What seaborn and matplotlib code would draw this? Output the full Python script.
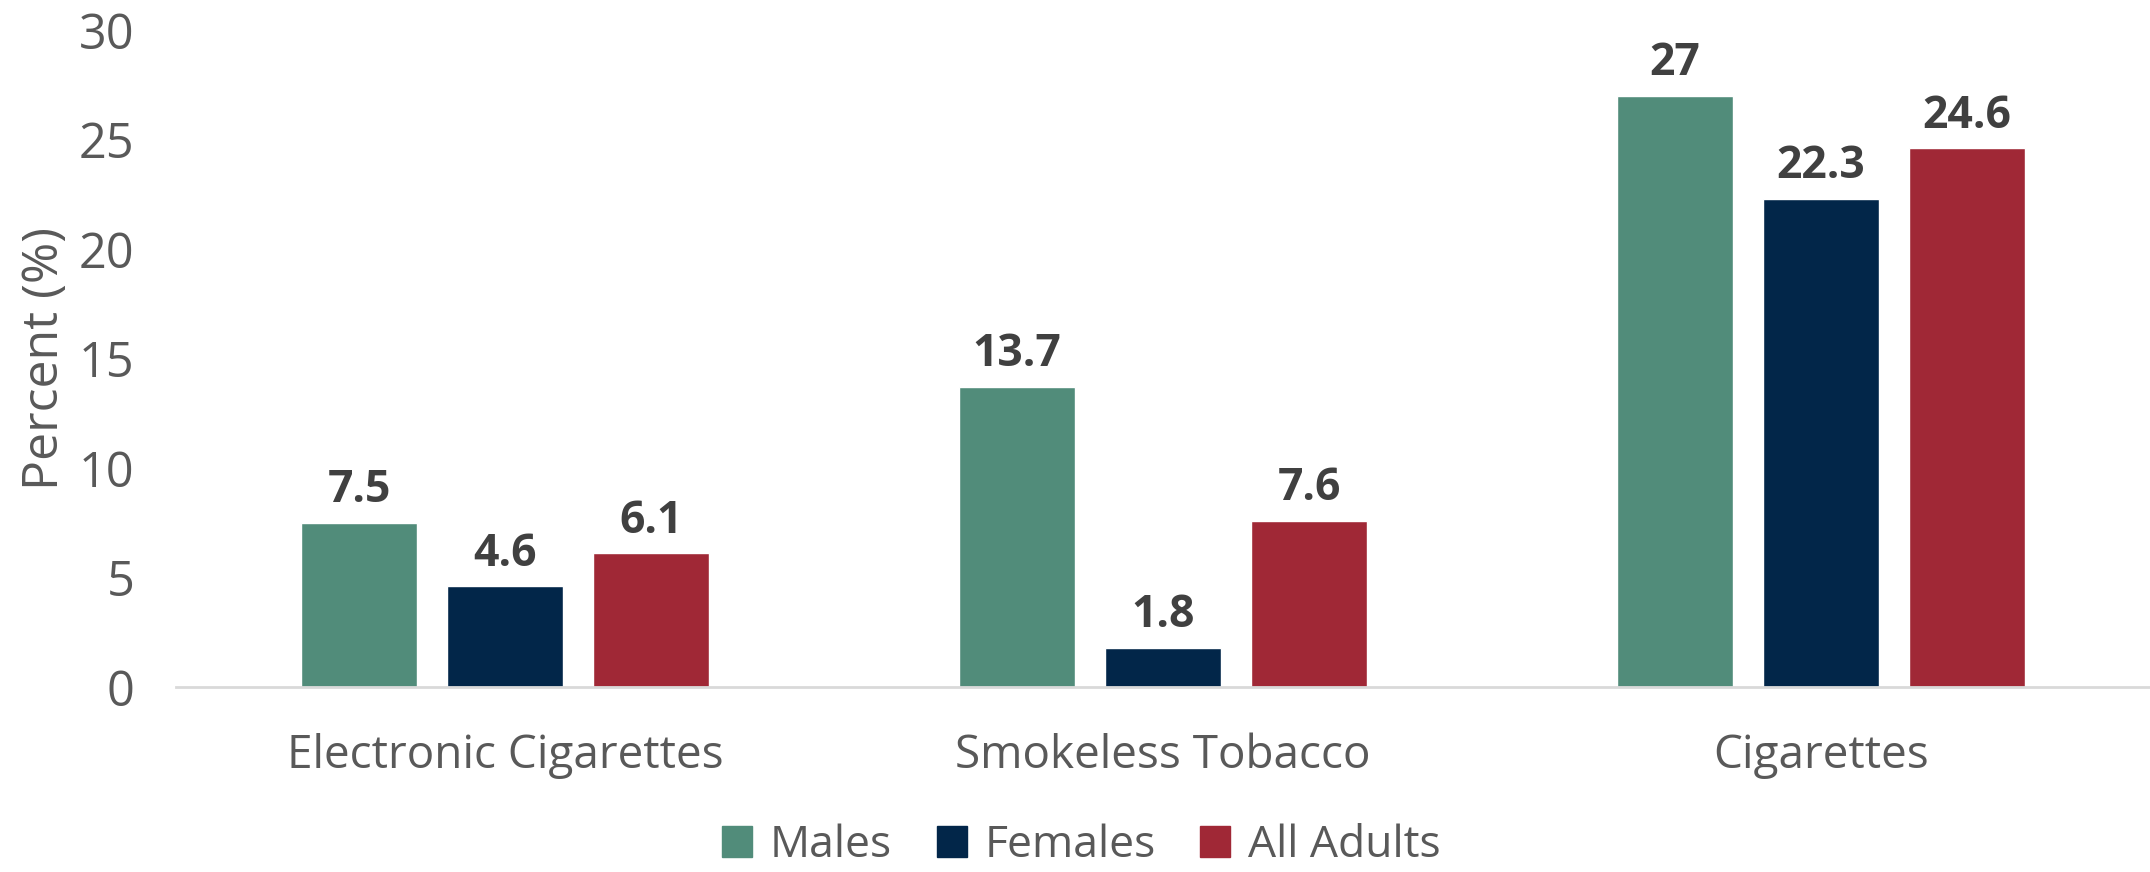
import pandas as pd
import numpy as np
import matplotlib.pyplot as plt
import seaborn as sns

# data
categories = ["Electronic Cigarettes", "Smokeless Tobacco", "Cigarettes"]
groups = ["Males", "Females", "All Adults"]
males = [7.5, 13.7, 27]
females = [4.6, 1.8, 22.3]
all_adults = [6.1, 7.6, 24.6]
labels = {"Males": ["7.5", "13.7", "27"],
          "Females": ["4.6", "1.8", "22.3"],
          "All Adults": ["6.1", "7.6", "24.6"]}

colors = ["#518C7A", "#022649", "#A02836"]

df = pd.DataFrame({
    "category": categories * 3,
    "group": [g for g in groups for _ in categories],
    "value": males + females + all_adults,
})

sns.set_style("white")
plt.rcParams['font.family'] = ['Open Sans', 'DejaVu Sans']

fig = plt.figure(figsize=(21.5, 8.72), dpi=100)
ax = fig.add_axes([0.0819, 0.2122, 0.9181, 0.7534])

sns.barplot(data=df, x="category", y="value", hue="group", order=categories,
            hue_order=groups, palette=colors, width=0.666, gap=0.21,
            saturation=1, ax=ax, legend=False)

# etichette valori
for cont, g in zip(ax.containers, groups):
    ax.bar_label(cont, labels=labels[g], padding=7, fontsize=32,
                 fontweight="bold", color="#404040")

ax.set_ylim(0, 30)
ax.set_xlim(-0.5, 2.5)
ax.set_yticks([0, 5, 10, 15, 20, 25, 30])
ax.tick_params(axis="y", labelsize=35, labelcolor="#595959", length=0, pad=30)
ax.tick_params(axis="x", labelsize=33, labelcolor="#595959", length=0, pad=33)
ax.set_xlabel("")
ax.set_ylabel("Percent (%)", fontsize=36, color="#595959", labelpad=6)

for s in ["top", "right", "left"]:
    ax.spines[s].set_visible(False)
ax.spines["bottom"].set_color("#D9D9D9")
ax.spines["bottom"].set_linewidth(2)

handles = [plt.Rectangle((0, 0), 1, 1, color=c) for c in colors]
fig.legend(handles, groups, loc="center", bbox_to_anchor=(0.503, 0.03),
           ncol=3, frameon=False, fontsize=32, labelcolor="#595959",
           handlelength=0.68, handleheight=0.68, handletextpad=0.4,
           columnspacing=1.0, borderpad=0.1)

fig.savefig("out.png", dpi=100)
